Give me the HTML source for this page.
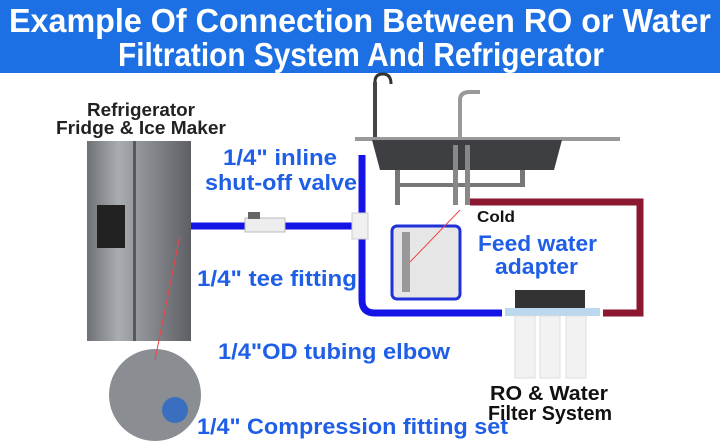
<!DOCTYPE html>
<html><head><meta charset="utf-8"><style>
html,body{margin:0;padding:0;background:#fff;}
svg{display:block;font-family:"Liberation Sans",sans-serif;font-weight:bold;}
</style></head><body>
<svg width="720" height="445" viewBox="0 0 720 445" xmlns="http://www.w3.org/2000/svg">
<defs>
<linearGradient id="fr" x1="0" x2="1"><stop offset="0" stop-color="#6e7176"/><stop offset="0.3" stop-color="#a9acb0"/><stop offset="0.55" stop-color="#8c8f94"/><stop offset="1" stop-color="#5d6065"/></linearGradient>
</defs>
<rect x="0" y="0" width="720" height="73" fill="#1c70e3"/>
<text x="9" y="32" font-size="33" fill="#fff" textLength="702" lengthAdjust="spacingAndGlyphs">Example Of Connection Between RO or Water</text>
<text x="118" y="66" font-size="33" fill="#fff" textLength="486" lengthAdjust="spacingAndGlyphs">Filtration System And Refrigerator</text>

<text x="87" y="116" font-size="18" fill="#222" textLength="108" lengthAdjust="spacingAndGlyphs">Refrigerator</text>
<text x="56" y="134" font-size="18" fill="#222" textLength="170" lengthAdjust="spacingAndGlyphs">Fridge &amp; Ice Maker</text>
<rect x="87" y="141" width="104" height="200" fill="url(#fr)"/>
<rect x="133" y="141" width="3" height="200" fill="#55585c"/>
<rect x="97" y="205" width="28" height="43" fill="#222"/>

<path d="M375 82 q0-8 8-8 q8 0 8 10" stroke="#333" stroke-width="3" fill="none"/>
<rect x="373" y="82" width="4" height="60" fill="#444"/>
<path d="M460 140 v-40 q0-8 10-8 h10" stroke="#999" stroke-width="4" fill="none"/>
<rect x="355" y="137" width="265" height="4" fill="#999"/>
<path d="M372 140 h190 l-8 30 h-174 z" fill="#3d3f42"/>
<rect x="395" y="170" width="5" height="35" fill="#777"/>
<rect x="395" y="183" width="130" height="4" fill="#777"/>
<rect x="520" y="170" width="5" height="15" fill="#777"/>
<rect x="453" y="145" width="5" height="60" fill="#888"/>
<rect x="465" y="145" width="5" height="60" fill="#888"/>

<path d="M191 226 H362" stroke="#1414e6" stroke-width="7" fill="none"/>
<path d="M362 155 V300 q0 13 13 13 H502" stroke="#1414e6" stroke-width="7" fill="none"/>
<path d="M470 202 H640 V313 H603" stroke="#8b1830" stroke-width="7" fill="none"/>
<rect x="245" y="218" width="40" height="14" fill="#eee" stroke="#bbb"/>
<rect x="248" y="212" width="12" height="7" fill="#666"/>
<rect x="352" y="213" width="16" height="26" fill="#f0f0f0" stroke="#ccc"/>

<rect x="392" y="226" width="68" height="73" rx="5" fill="#e6e6e6" stroke="#2030d8" stroke-width="3"/>
<rect x="402" y="232" width="8" height="60" fill="#999"/>
<line x1="410" y1="262" x2="460" y2="210" stroke="#e44" stroke-width="1"/>

<rect x="515" y="290" width="70" height="22" fill="#333"/>
<rect x="505" y="308" width="95" height="8" fill="#bcd8ef"/>
<rect x="515" y="316" width="20" height="62" fill="#f2f2f2" stroke="#ddd"/>
<rect x="540" y="316" width="20" height="62" fill="#f2f2f2" stroke="#ddd"/>
<rect x="566" y="316" width="20" height="62" fill="#f2f2f2" stroke="#ddd"/>

<circle cx="155" cy="395" r="46" fill="#8a8d92"/>
<circle cx="175" cy="410" r="13" fill="#3a6fc0"/>
<line x1="180" y1="235" x2="155" y2="360" stroke="#e44" stroke-width="1"/>

<text x="223" y="165" font-size="22" fill="#1f5ee6" textLength="114" lengthAdjust="spacingAndGlyphs">1/4" inline</text>
<text x="205" y="190" font-size="22" fill="#1f5ee6" textLength="152" lengthAdjust="spacingAndGlyphs">shut-off valve</text>
<text x="197" y="286" font-size="22" fill="#1f5ee6" textLength="160" lengthAdjust="spacingAndGlyphs">1/4" tee fitting</text>
<text x="478" y="251" font-size="22" fill="#1f5ee6" textLength="119" lengthAdjust="spacingAndGlyphs">Feed water</text>
<text x="495" y="274" font-size="22" fill="#1f5ee6" textLength="83" lengthAdjust="spacingAndGlyphs">adapter</text>
<text x="477" y="222" font-size="16" fill="#111" textLength="38" lengthAdjust="spacingAndGlyphs">Cold</text>
<text x="218" y="359" font-size="22" fill="#1f5ee6" textLength="232" lengthAdjust="spacingAndGlyphs">1/4"OD tubing elbow</text>
<text x="197" y="434" font-size="22" fill="#1f5ee6" textLength="311" lengthAdjust="spacingAndGlyphs">1/4"  Compression fitting set</text>
<text x="490" y="400" font-size="20" fill="#111" textLength="118" lengthAdjust="spacingAndGlyphs">RO &amp; Water</text>
<text x="488" y="420" font-size="20" fill="#111" textLength="124" lengthAdjust="spacingAndGlyphs">Filter System</text>
</svg>
</body></html>
